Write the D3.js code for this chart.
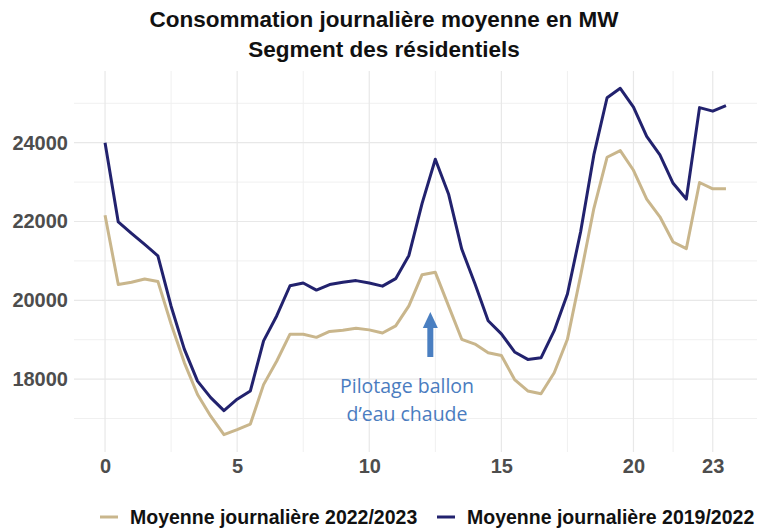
<!DOCTYPE html>
<html>
<head>
<meta charset="utf-8">
<script src="https://cdn.jsdelivr.net/npm/d3@7"></script>
<style>
  body { margin: 0; background: #fff; }
  svg text { font-family: "Liberation Sans", Arial, sans-serif; }
</style>
</head>
<body>
<div id="chart"></div>
<script>
// half-hourly points, 0 -> 23.5
const hours = d3.range(48).map(i => i / 2);

const conso2223 = [
  22160, 20400, 20460, 20540, 20480, 19400, 18420, 17610, 17060, 16590,
  16720, 16860, 17860, 18460, 19140, 19140, 19060, 19210, 19240, 19290,
  19250, 19170, 19350, 19860, 20650, 20710, 19860, 19010, 18890, 18670,
  18600, 17990, 17700, 17630, 18160, 19010, 20630, 22330, 23630, 23800,
  23300, 22570, 22120, 21480, 21310, 22990, 22830, 22830
];

const conso1922 = [
  24000, 21990, 21700, 21420, 21130, 19850, 18760, 17950, 17530, 17200,
  17490, 17700, 18970, 19610, 20370, 20440, 20260, 20400, 20460, 20500,
  20440, 20360, 20550, 21140, 22460, 23580, 22700, 21300, 20420, 19480,
  19150, 18690, 18500, 18540, 19230, 20160, 21740, 23690, 25140, 25380,
  24900, 24160, 23690, 22970, 22570, 24890, 24800, 24940
];

const xTicks = [0, 5, 10, 15, 20, 23];
const xMinor = [2.5, 7.5, 12.5, 17.5, 21.5];
const yTicks = [18000, 20000, 22000, 24000];
const yMinor = [17000, 19000, 21000, 23000, 25000];

const seriesNames = ["Moyenne journalière 2022/2023", "Moyenne journalière 2019/2022"];
const colours = ["#c9b68c", "#22226e"];

const width = 766, height = 531;
const margin = { top: 71, right: 9, bottom: 79, left: 74 };

const svg = d3.select("#chart")
  .append("svg")
    .attr("width", width)
    .attr("height", height);

// ggplot-like 5% expansion
const xExt = d3.extent(hours), xPad = (xExt[1] - xExt[0]) * 0.05;
const allVals = conso2223.concat(conso1922);
const yExt = d3.extent(allVals), yPad = (yExt[1] - yExt[0]) * 0.05;

let x = d3.scaleLinear()
    .domain([xExt[0] - xPad, xExt[1] + xPad])
    .range([margin.left, width - margin.right]);

let y = d3.scaleLinear()
    .domain([yExt[0] - yPad, yExt[1] + yPad])
    .range([height - margin.bottom, margin.top]);

// grid
const grid = svg.append("g");
grid.selectAll(".ymin").data(yMinor).enter().append("line")
  .attr("x1", x.range()[0]).attr("x2", x.range()[1])
  .attr("y1", d => y(d)).attr("y2", d => y(d))
  .attr("stroke", "#f0f0f0").attr("stroke-width", 1);
grid.selectAll(".xmin").data(xMinor).enter().append("line")
  .attr("y1", y.range()[0]).attr("y2", y.range()[1])
  .attr("x1", d => x(d)).attr("x2", d => x(d))
  .attr("stroke", "#f0f0f0").attr("stroke-width", 1);
grid.selectAll(".ymaj").data(yTicks).enter().append("line")
  .attr("x1", x.range()[0]).attr("x2", x.range()[1])
  .attr("y1", d => y(d)).attr("y2", d => y(d))
  .attr("stroke", "#e8e8e8").attr("stroke-width", 1.2);
grid.selectAll(".xmaj").data(xTicks).enter().append("line")
  .attr("y1", y.range()[0]).attr("y2", y.range()[1])
  .attr("x1", d => x(d)).attr("x2", d => x(d))
  .attr("stroke", "#e8e8e8").attr("stroke-width", 1.2);

// axes (no lines, just labels)
const xAxis = svg.append("g")
  .attr("transform", `translate(0, ${height - margin.bottom})`)
  .call(d3.axisBottom(x).tickValues(xTicks).tickSize(0).tickPadding(7));
const yAxis = svg.append("g")
  .attr("transform", `translate(${margin.left}, 0)`)
  .call(d3.axisLeft(y).tickValues(yTicks).tickFormat(d3.format("d")).tickSize(0).tickPadding(6));
[xAxis, yAxis].forEach(a => {
  a.select(".domain").remove();
  a.selectAll("text")
    .style("font-family", "'Liberation Sans', Arial, sans-serif")
    .style("font-size", "20px")
    .style("font-weight", "bold")
    .attr("fill", "#4d4d4d");
});

// lines
const line = d3.line()
  .x((d, i) => x(hours[i]))
  .y(d => y(d));

[conso2223, conso1922].forEach((s, k) => {
  svg.append("path")
    .datum(s)
    .attr("fill", "none")
    .attr("stroke", colours[k])
    .attr("stroke-width", 3)
    .attr("stroke-linejoin", "round")
    .attr("d", line);
});

// annotation
const annX = x(12.5) - 5;
svg.append("line")
  .attr("x1", annX).attr("x2", annX)
  .attr("y1", 357).attr("y2", 326)
  .attr("stroke", "#4a7fc1").attr("stroke-width", 6);
svg.append("path")
  .attr("d", `M${annX - 7.5},328 L${annX + 7.5},328 L${annX},312 Z`)
  .attr("fill", "#4a7fc1");
// two separate texts so the lines don't collide
const annLines = ["Pilotage ballon", "d’eau chaude"];
svg.selectAll(".ann")
  .data(annLines)
  .enter().append("text")
  .attr("class", "ann")
  .attr("text-anchor", "middle")
  .attr("x", 407)
  .attr("y", (d, i) => 393 + i * 28)
  .attr("fill", "#4a7cc0")
  .style("font-family", "'Open Sans', sans-serif")
  .style("font-size", "19.5px")
  .text(d => d);

// title
const title = svg.append("text")
  .attr("text-anchor", "middle")
  .style("font-size", "22.5px")
  .style("font-weight", "bold")
  .attr("fill", "#111");
title.append("tspan").attr("x", 384).attr("y", 27).text("Consommation journalière moyenne en MW");
title.append("tspan").attr("x", 384).attr("y", 57).text("Segment des résidentiels");

// legend
const legendX = [100, 437];
const legend = svg.selectAll(".legend")
  .data(seriesNames)
  .enter().append("g")
  .attr("transform", (d, i) => `translate(${legendX[i]}, 517)`);
legend.append("line")
  .attr("x1", 0).attr("x2", 18)
  .attr("stroke", (d, i) => colours[i])
  .attr("stroke-width", 3);
legend.append("text")
  .attr("x", 30).attr("y", 7)
  .style("font-size", "19.5px")
  .style("font-weight", "bold")
  .attr("fill", "#111")
  .text(d => d);
</script>
</body>
</html>
